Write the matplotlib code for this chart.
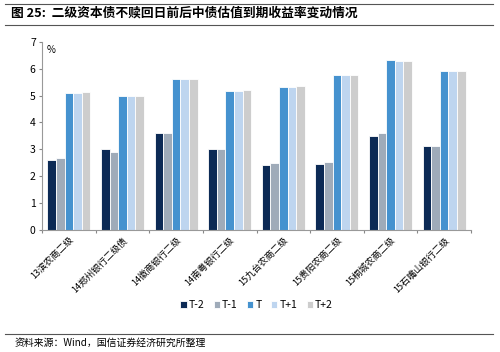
import numpy as np
import matplotlib.pyplot as plt

plt.rcParams['font.family'] = ['Noto Sans CJK SC', 'DejaVu Sans']

bonds = ['13滨农商二级', '14郑州银行二级债', '14徽商银行二级', '14南粤银行二级',
         '15九台农商二级', '15贵阳农商二级', '15桐城农商二级', '15石嘴山银行二级']
series = ['T-2', 'T-1', 'T', 'T+1', 'T+2']
t_m2 = [2.60, 3.02, 3.60, 3.01, 2.40, 2.45, 3.49, 3.13]
t_m1 = [2.68, 2.91, 3.60, 3.00, 2.49, 2.52, 3.62, 3.12]
t_0 = [5.11, 5.00, 5.62, 5.18, 5.32, 5.78, 6.32, 5.93]
t_p1 = [5.10, 4.98, 5.62, 5.18, 5.32, 5.75, 6.29, 5.90]
t_p2 = [5.13, 4.98, 5.60, 5.19, 5.34, 5.75, 6.30, 5.93]
colors = ['#0c2a55', '#9fabb9', '#4592cf', '#bed5ef', '#cdcdcd']

fig = plt.figure(figsize=(5, 3.52), dpi=100)
ax = fig.add_axes([0.084, 0.347, 0.858, 0.534])

x = np.arange(len(bonds))
w = 0.16
for i, (vals, name) in enumerate(zip([t_m2, t_m1, t_0, t_p1, t_p2], series)):
    ax.bar(x + (i - 2) * w, vals, width=w, color=colors[i], edgecolor='white',
           linewidth=0.6, label=name)

ax.set_xlim(-0.5, len(bonds) - 0.5)
ax.set_ylim(0, 7)
ax.set_yticks(range(8))
ax.tick_params(axis='y', labelsize=7.5, length=2.5, color='#888888', pad=2)
ax.set_xticks(np.arange(len(bonds) + 1) - 0.5)
ax.set_xticklabels([])
ax.set_xticks(x, minor=True)
ax.set_xticklabels(bonds, minor=True, rotation=45, ha='right', rotation_mode='anchor', fontsize=6.6)
ax.tick_params(axis='x', which='major', length=2.5, color='#888888')
ax.tick_params(axis='x', which='minor', length=0, pad=4)
for s in ['top', 'right']:
    ax.spines[s].set_visible(False)
for s in ['left', 'bottom']:
    ax.spines[s].set_color('#999999')
    ax.spines[s].set_linewidth(0.8)
ax.text(0.01, 0.985, '%', transform=ax.transAxes, fontsize=7, va='top')

ax.legend(loc='center', bbox_to_anchor=(0.5, -0.40), ncol=5, frameon=False, fontsize=7.5,
          handlelength=0.6, handleheight=0.6, handletextpad=0.2, columnspacing=0.9)

fig.text(0.022, 0.962, '图 25:  二级资本债不赎回日前后中债估值到期收益率变动情况',
         fontsize=9.2, fontweight='bold', va='center')
fig.add_artist(plt.Line2D([0.01, 0.985], [0.99, 0.99], color='#555555', lw=0.8))
fig.add_artist(plt.Line2D([0.01, 0.985], [0.93, 0.93], color='#555555', lw=0.8))
fig.add_artist(plt.Line2D([0.01, 0.985], [0.052, 0.052], color='#555555', lw=0.8))
fig.text(0.03, 0.025, '资料来源：Wind，国信证券经济研究所整理', fontsize=7.1, va='center')

fig.savefig('out.png', dpi=100)
